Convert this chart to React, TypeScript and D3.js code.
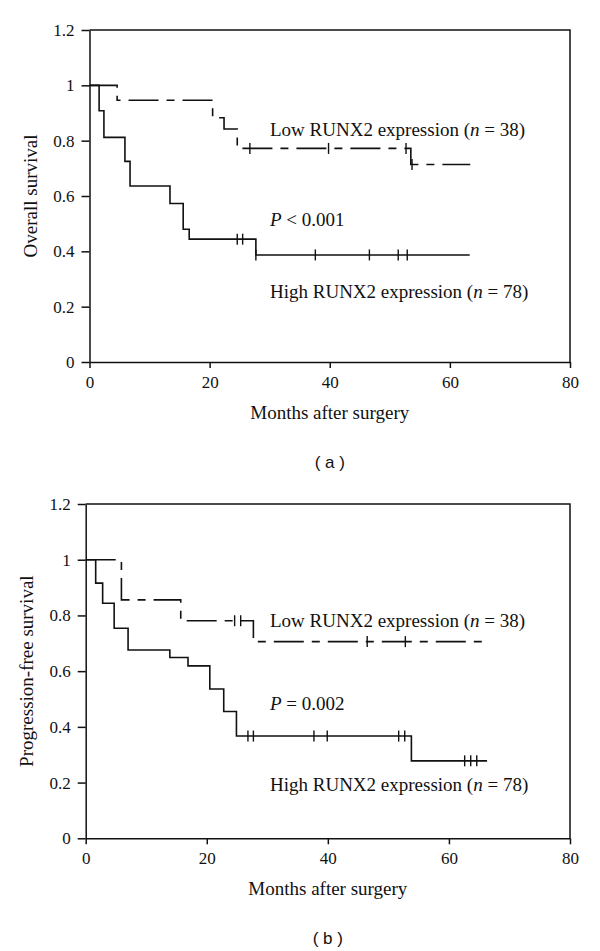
import React, { useEffect, useRef } from 'react';
import * as d3 from 'd3';

const monthTicks = [0, 20, 40, 60, 80];
const survivalTicks = [0, 0.2, 0.4, 0.6, 0.8, 1, 1.2];

// (a) overall survival
const osLowMonths = [0, 4.6, 20.5, 22.4, 24.6, 53.5];
const osLowSurvival = [1, 0.946, 0.883, 0.842, 0.772, 0.714];
const osLowLast = 63.4;
const osLowCensored = [26.7, 39.8, 52.7, 53.7];

const osHighMonths = [0, 1.6, 2.4, 5.9, 6.75, 13.4, 15.6, 16.6, 27.7];
const osHighSurvival = [1, 0.908, 0.812, 0.725, 0.636, 0.573, 0.48, 0.444, 0.387];
const osHighLast = 63.3;
const osHighCensored = [24.6, 25.5, 27.7, 37.6, 46.6, 51.4, 52.9];

// (b) progression-free survival
const pfsLowMonths = [0, 5.9, 15.7, 27.7];
const pfsLowSurvival = [1, 0.856, 0.781, 0.706];
const pfsLowLast = 66.7;
const pfsLowCensored = [24.6, 25.6, 46.5, 52.8];

const pfsHighMonths = [0, 1.65, 2.8, 4.7, 7.0, 13.9, 16.9, 20.5, 22.8, 24.9, 53.8];
const pfsHighSurvival = [1, 0.916, 0.844, 0.754, 0.676, 0.649, 0.619, 0.536, 0.455, 0.367, 0.278];
const pfsHighLast = 66.3;
const pfsHighCensored = [26.8, 27.7, 37.7, 39.9, 51.7, 52.7, 62.6, 63.6, 64.6];

const SERIF = '"Liberation Serif", "Times New Roman", serif';
const SANS = '"Liberation Sans", Arial, sans-serif';

type Curve = { months: number[]; survival: number[]; last: number; censored: number[] };

function survivalAt(c: Curve, t: number) {
  let s = c.survival[0];
  c.months.forEach((m, i) => { if (m <= t) s = c.survival[i]; });
  return s;
}

function KmCurve({ curve, x, y, dashed }: { curve: Curve; x: any; y: any; dashed?: boolean }) {
  const pts: [number, number][] = curve.months.map((m, i) => [m, curve.survival[i]]);
  pts.push([curve.last, curve.survival[curve.survival.length - 1]]);
  const line = d3.line<[number, number]>()
    .x(d => x(d[0]))
    .y(d => y(d[1]))
    .curve(d3.curveStepAfter);
  return (
    <g>
      <path d={line(pts) || ''} fill="none" stroke="#111" strokeWidth={1.6}
        strokeDasharray={dashed ? '30 8 8 8' : undefined} />
      {curve.censored.map((t, i) => (
        <line key={i} x1={x(t)} x2={x(t)} y1={y(survivalAt(curve, t)) - 5.5}
          y2={y(survivalAt(curve, t)) + 5.5} stroke="#111" strokeWidth={1.4} />
      ))}
    </g>
  );
}

function Panel(props: {
  left: number; right: number; top: number; bottom: number;
  low: Curve; high: Curve; yTitle: string; pLabel: string; letter: string;
  titleX: number; lowY: number; pY: number; highY: number;
}) {
  const { left, right, top, bottom, low, high } = props;
  const x = d3.scaleLinear().domain([0, 80]).range([left, right]);
  const y = d3.scaleLinear().domain([0, 1.2]).range([bottom, top]);
  const xRef = useRef<SVGGElement>(null);
  const yRef = useRef<SVGGElement>(null);

  useEffect(() => {
    const style = (g: any) => {
      g.attr('font-family', SERIF).attr('font-size', 17);
      g.selectAll('path, line').attr('stroke', '#111').attr('stroke-width', 1.5);
      g.selectAll('text').attr('fill', '#111');
    };
    d3.select(xRef.current as SVGGElement)
      .call(d3.axisBottom(x).tickValues(monthTicks).tickSize(6).tickSizeOuter(0).tickPadding(8).tickFormat(d3.format('d')) as any)
      .call(style);
    d3.select(yRef.current as SVGGElement)
      .call(d3.axisLeft(y).tickValues(survivalTicks).tickSize(8).tickSizeOuter(0).tickPadding(7).tickFormat((d: any) => String(d)) as any)
      .call(style);
  });

  const textX = 270;
  return (
    <g>
      <g ref={xRef} transform={`translate(0,${bottom})`} />
      <g ref={yRef} transform={`translate(${left},0)`} />
      <path d={`M${left},${top}H${right}V${bottom}`} fill="none" stroke="#111" strokeWidth={1.5} />
      <KmCurve curve={low} x={x} y={y} dashed />
      <KmCurve curve={high} x={x} y={y} />
      <g fontFamily={SERIF} fontSize={19} fill="#111">
        <text x={textX} y={props.lowY}>Low RUNX2 expression (<tspan fontStyle="italic">n</tspan> = 38)</text>
        <text x={textX} y={props.pY}><tspan fontStyle="italic">P</tspan>{props.pLabel}</text>
        <text x={textX} y={props.highY}>High RUNX2 expression (<tspan fontStyle="italic">n</tspan> = 78)</text>
        <text x={(left + right) / 2} y={bottom + 57} textAnchor="middle">Months after surgery</text>
        <text transform={`translate(${props.titleX},${(top + bottom) / 2}) rotate(-90)`} textAnchor="middle">{props.yTitle}</text>
      </g>
      <text x={(left + right) / 2} y={bottom + 106} textAnchor="middle" fontFamily={SANS} fontSize={17} fill="#111">( {props.letter} )</text>
    </g>
  );
}

export default function App() {
  return (
    <svg width={600} height={951} style={{ position: 'absolute', left: 0, top: 0, background: '#fff' }}>
      <Panel left={89.5} right={570} top={30} bottom={362}
        low={{ months: osLowMonths, survival: osLowSurvival, last: osLowLast, censored: osLowCensored }}
        high={{ months: osHighMonths, survival: osHighSurvival, last: osHighLast, censored: osHighCensored }}
        yTitle="Overall survival" pLabel=" < 0.001" letter="a"
        titleX={37} lowY={136} pY={226} highY={298} />
      <Panel left={85.7} right={570} top={504} bottom={838.3}
        low={{ months: pfsLowMonths, survival: pfsLowSurvival, last: pfsLowLast, censored: pfsLowCensored }}
        high={{ months: pfsHighMonths, survival: pfsHighSurvival, last: pfsHighLast, censored: pfsHighCensored }}
        yTitle="Progression-free survival" pLabel=" = 0.002" letter="b"
        titleX={33} lowY={627} pY={710} highY={791} />
    </svg>
  );
}
